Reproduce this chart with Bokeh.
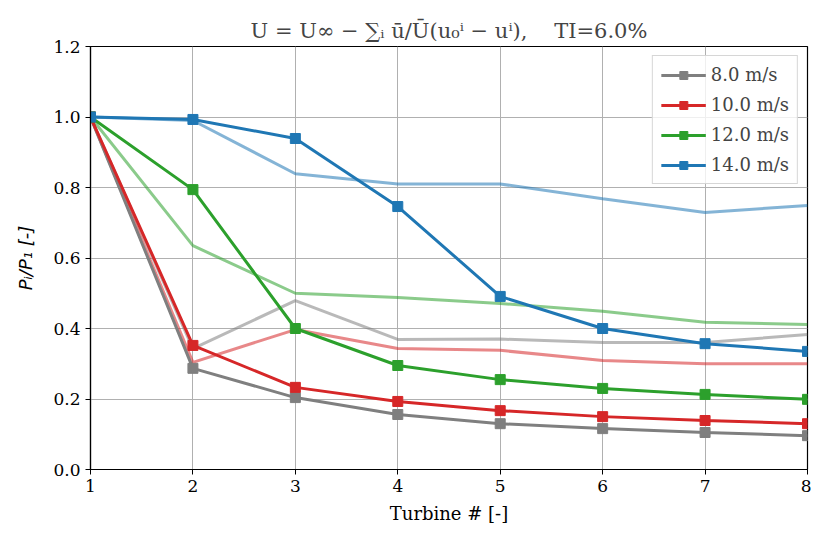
from bokeh.plotting import figure
from bokeh.embed import file_html
from bokeh.resources import INLINE
from bokeh.models import FixedTicker, PrintfTickFormatter, Range1d, Legend, LegendItem

turbines = [1, 2, 3, 4, 5, 6, 7, 8]
speeds = ["8.0 m/s", "10.0 m/s", "12.0 m/s", "14.0 m/s"]
colors = ["#7f7f7f", "#d62728", "#2ca02c", "#1f77b4"]

# model series (with markers)
p8 = [1.0, 0.287, 0.204, 0.156, 0.130, 0.116, 0.105, 0.096]
p10 = [1.0, 0.352, 0.233, 0.193, 0.167, 0.150, 0.139, 0.130]
p12 = [1.0, 0.794, 0.400, 0.295, 0.255, 0.230, 0.213, 0.199]
p14 = [1.0, 0.993, 0.939, 0.746, 0.491, 0.400, 0.357, 0.335]

# reference series (faint lines)
r8 = [1.0, 0.343, 0.479, 0.369, 0.370, 0.360, 0.360, 0.383]
r10 = [1.0, 0.304, 0.397, 0.343, 0.338, 0.309, 0.300, 0.300]
r12 = [1.0, 0.635, 0.500, 0.488, 0.471, 0.449, 0.418, 0.411]
r14 = [1.0, 0.990, 0.839, 0.810, 0.810, 0.768, 0.729, 0.749]

y_ticks = [0.0, 0.2, 0.4, 0.6, 0.8, 1.0, 1.2]

model = [p8, p10, p12, p14]
ref = [r8, r10, r12, r14]

title_text = "U = U∞ − ∑ᵢ ū/Ū(u₀ⁱ − uⁱ),\u00a0\u00a0\u00a0\u00a0TI=6.0%"

p = figure(width=811, height=527, output_backend="svg", toolbar_location=None,
           x_range=Range1d(1, 8), y_range=Range1d(0, 1.2),
           min_border_left=90, min_border_right=4, min_border_top=46, min_border_bottom=58,
           title=title_text)

p.title.align = "center"
p.title.text_font = "DejaVu Serif"
p.title.text_font_size = "21px"
p.title.text_font_style = "normal"
p.title.standoff = 8

for ys, c in zip(ref, colors):
    p.line(turbines, ys, line_color=c, line_width=3, line_alpha=0.55)

items = []
for ys, c, lab in zip(model, colors, speeds):
    l = p.line(turbines, ys, line_color=c, line_width=3)
    m = p.scatter(turbines, ys, marker="square", size=10, fill_color=c, line_color=c)
    items.append(LegendItem(label=lab, renderers=[l, m]))

legend = Legend(items=items, location="top_right")
legend.label_text_font = "DejaVu Serif"
legend.label_text_font_size = "18px"
legend.glyph_width = 45
legend.glyph_height = 20
legend.label_height = 20
legend.spacing = 9
legend.padding = 8
legend.margin = 9
legend.border_line_color = "#cccccc"
legend.border_line_alpha = 0.8
legend.background_fill_alpha = 0.8
p.add_layout(legend)

p.xaxis.ticker = FixedTicker(ticks=turbines)
p.yaxis.ticker = FixedTicker(ticks=y_ticks)
p.yaxis.formatter = PrintfTickFormatter(format="%.1f")
p.xaxis.axis_label = "Turbine # [-]"
p.yaxis.axis_label = "Pᵢ/P₁ [-]"

for ax in (p.xaxis[0], p.yaxis[0]):
    ax.major_label_text_font = "DejaVu Serif"
    ax.major_label_text_font_size = "17px"
    ax.major_label_text_color = "black"
    ax.axis_line_color = "black"
    ax.axis_line_width = 1.2
    ax.major_tick_line_color = "black"
    ax.major_tick_out = 5
    ax.major_tick_in = 0
    ax.minor_tick_line_color = None
    ax.axis_label_text_font_size = "18px"
    ax.axis_label_text_font_style = "normal"
    ax.axis_label_text_color = "black"
p.xaxis.axis_label_text_font = "DejaVu Serif"
p.yaxis.axis_label_text_font = "DejaVu Sans"
p.yaxis.axis_label_text_font_style = "italic"
p.xaxis.axis_label_standoff = 8
p.yaxis.axis_label_standoff = 14

p.grid.grid_line_color = "#b0b0b0"
p.grid.grid_line_width = 1
p.outline_line_color = "black"
p.outline_line_width = 1.2
p.outline_line_alpha = 1.0

open("out.html", "w").write(file_html(p, INLINE))
